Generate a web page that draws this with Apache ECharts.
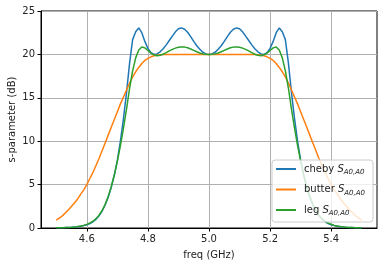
<!DOCTYPE html>
<html><head><meta charset="utf-8">
<script src="https://cdn.jsdelivr.net/npm/echarts@6/dist/echarts.min.js"></script>
<style>html,body{margin:0;padding:0;background:#fff}#c{width:382px;height:266px}</style>
</head><body><div id="c"></div>
<script>
var freq = [4.50,4.51,4.52,4.53,4.54,4.55,4.56,4.57,4.58,4.59,4.60,4.61,4.62,4.63,4.64,4.65,4.66,4.67,4.68,4.69,4.70,4.71,4.72,4.73,4.74,4.75,4.76,4.77,4.78,4.79,4.80,4.81,4.82,4.83,4.84,4.85,4.86,4.87,4.88,4.89,4.90,4.91,4.92,4.93,4.94,4.95,4.96,4.97,4.98,4.99,5.00,5.01,5.02,5.03,5.04,5.05,5.06,5.07,5.08,5.09,5.10,5.11,5.12,5.13,5.14,5.15,5.16,5.17,5.18,5.19,5.20,5.21,5.22,5.23,5.24,5.25,5.26,5.27,5.28,5.29,5.30,5.31,5.32,5.33,5.34,5.35,5.36,5.37,5.38,5.39,5.40,5.41,5.42,5.43,5.44,5.45,5.46,5.47,5.48,5.49,5.50];
var cheby = [0.02,0.03,0.04,0.05,0.06,0.08,0.11,0.15,0.2,0.28,
0.38,0.52,0.72,1.0,1.4,1.95,2.65,3.55,4.7,6.1,
7.8,10.0,12.6,15.6,19.0,21.7,22.6,23.05,22.5,21.5,
20.7,20.2,20.0,20.05,20.3,20.65,21.1,21.6,22.1,22.6,
22.95,23.05,22.9,22.55,22.05,21.5,21.0,20.6,20.25,20.05,
20.0,
20.05,20.25,20.6,21.0,21.5,22.05,22.55,22.9,23.05,22.95,
22.6,22.1,21.6,21.1,20.65,20.3,20.05,20.0,20.2,20.7,
21.5,22.5,23.05,22.6,21.7,19.0,15.6,12.6,10.0,7.8,
6.1,4.7,3.55,2.65,1.95,1.4,1.0,0.72,0.52,0.38,
0.28,0.2,0.15,0.11,0.08,0.06,0.05,0.04,0.03,0.02];
var butter = [0.9,1.15,1.4,1.75,2.1,2.5,2.9,3.35,3.9,4.4,
5.0,5.7,6.4,7.2,8.0,8.9,9.8,10.7,11.6,12.5,
13.4,14.3,15.1,15.9,16.7,17.4,18.0,18.5,18.95,19.3,
19.55,19.72,19.84,19.91,19.95,19.98,19.99,20,20,20,
20,20,20,20,20,20,20,20,20,20,
20,
20,20,20,20,20,20,20,20,20,20,
20,20,20,19.99,19.98,19.95,19.91,19.84,19.72,19.55,
19.3,18.95,18.5,18.0,17.4,16.7,15.9,15.1,14.3,13.4,
12.5,11.6,10.7,9.8,8.9,8.0,7.2,6.4,5.7,5.0,
4.4,3.9,3.35,2.9,2.5,2.1,1.75,1.4,1.15,0.9];
var leg = [0.02,0.03,0.04,0.05,0.07,0.09,0.12,0.16,0.22,0.3,
0.42,0.57,0.78,1.08,1.48,2.02,2.72,3.62,4.75,6.1,
7.7,9.5,11.5,13.7,16.1,18.1,19.6,20.5,20.85,20.75,
20.45,20.15,19.95,19.85,19.9,20.02,20.2,20.4,20.58,20.72,
20.82,20.86,20.84,20.76,20.62,20.46,20.3,20.16,20.06,20.01,
20.0,
20.01,20.06,20.16,20.3,20.46,20.62,20.76,20.84,20.86,20.82,
20.72,20.58,20.4,20.2,20.02,19.9,19.85,19.95,20.15,20.45,
20.75,20.85,20.5,19.6,18.1,16.1,13.7,11.5,9.5,7.7,
6.1,4.75,3.62,2.72,2.02,1.48,1.08,0.78,0.57,0.42,
0.3,0.22,0.16,0.12,0.09,0.07,0.05,0.04,0.03,0.02];
var xTicks = [4.6,4.8,5.0,5.2,5.4];
var seriesNames = ['cheby','butter','leg'];
var colors = ['#1f77b4','#ff7f0e','#2ca02c'];

function pairs(ys){ return freq.map(function(f,i){ return [f, ys[i]]; }); }
var font = 'DejaVu Sans';
var chart = echarts.init(document.getElementById('c'), null, {renderer:'canvas'});
var mk = function(name, ys, c){ return {name:name,type:'line',data:pairs(ys),showSymbol:false,symbol:'none',smooth:false,lineStyle:{color:c,width:1.5},itemStyle:{color:c},animation:false}; };
chart.setOption({
  animation:false,
  color: colors,
  grid:{left:41,right:5,top:11,bottom:38,outerBoundsMode:'none',containLabel:false,show:true,borderColor:'#000',borderWidth:1,backgroundColor:'transparent'},
  xAxis:{type:'value',min:4.45,max:5.55,
    name:'freq (GHz)',nameLocation:'middle',nameGap:22,nameMoveOverlap:false,nameTextStyle:{fontFamily:font,fontSize:10,color:'#222'},
    axisLine:{show:true,onZero:false,lineStyle:{color:'#000',width:1}},
    axisTick:{show:true,customValues:xTicks,length:3.5,inside:false,lineStyle:{color:'#000',width:1}},
    axisLabel:{customValues:xTicks,margin:6,fontFamily:font,fontSize:10,color:'#222',formatter:function(v){return v.toFixed(1);}},
    splitLine:{show:true,customValues:xTicks,lineStyle:{color:'#b0b0b0',width:1}}},
  yAxis:{type:'value',min:0,max:25,interval:5,
    name:'s-parameter (dB)',nameLocation:'middle',nameGap:24,nameMoveOverlap:false,nameRotate:90,nameTextStyle:{fontFamily:font,fontSize:10,color:'#222'},
    axisLine:{show:true,lineStyle:{color:'#000',width:1}},
    axisTick:{show:true,length:3.5,lineStyle:{color:'#000',width:1}},
    axisLabel:{margin:6,fontFamily:font,fontSize:10,color:'#222'},
    splitLine:{show:true,lineStyle:{color:'#b0b0b0',width:1}}},
  legend:{orient:'vertical',left:272,top:160,padding:[4,8,5,4],itemGap:8.5,itemWidth:20,itemHeight:2,icon:'rect',
    backgroundColor:'rgba(255,255,255,0.8)',borderColor:'#cccccc',borderWidth:1,borderRadius:3,
    data:seriesNames,
    formatter:function(n){ return '{n|'+n+' }{s|S}{b|A0,A0}'; },
    textStyle:{fontFamily:font,fontSize:10,color:'#222',
      rich:{n:{fontFamily:font,fontSize:10,color:'#222',lineHeight:14,padding:[0,0,0,3]},
            s:{fontFamily:font,fontSize:10,color:'#222',fontStyle:'italic',lineHeight:14},
            b:{fontFamily:font,fontSize:7,color:'#222',fontStyle:'italic',lineHeight:7,verticalAlign:'bottom'}}}},
  series:[mk('cheby',cheby,colors[0]), mk('butter',butter,colors[1]), mk('leg',leg,colors[2])]
});
</script></body></html>
